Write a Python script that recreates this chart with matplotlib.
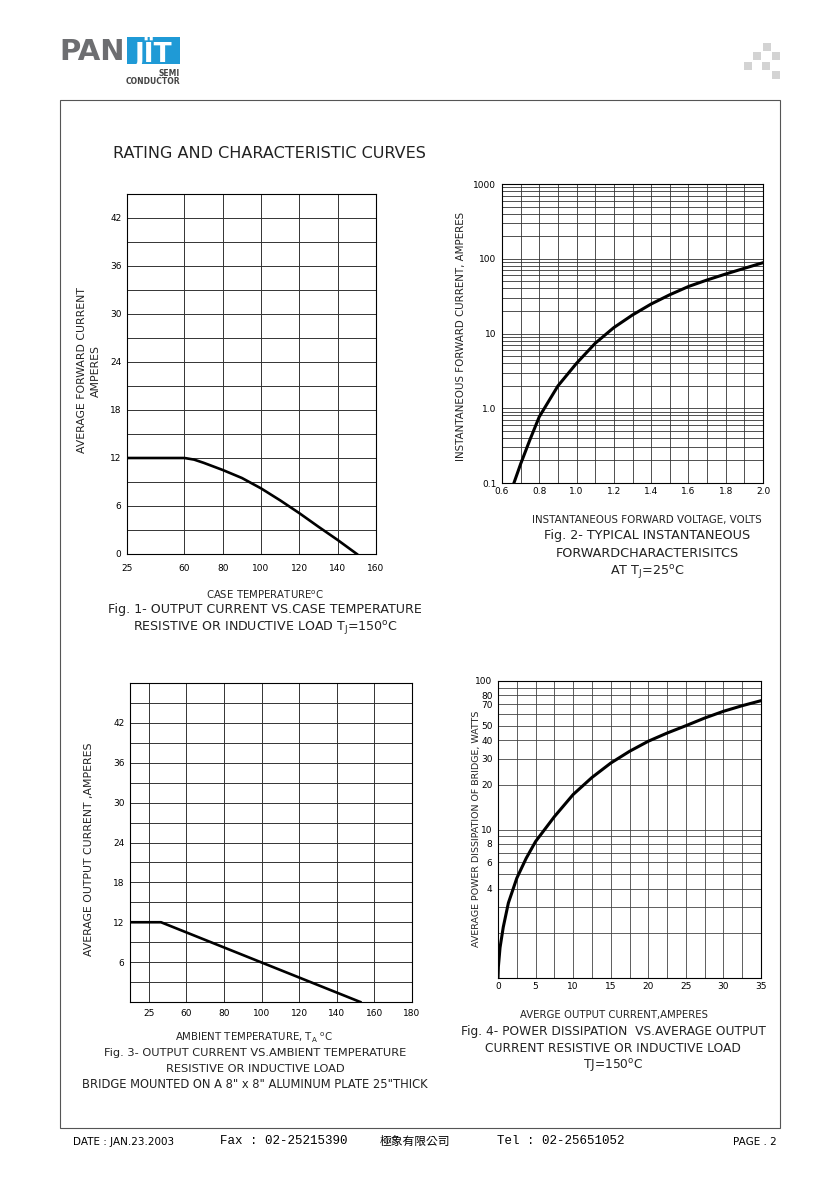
import numpy as np
import matplotlib
matplotlib.use("Agg")
import matplotlib.pyplot as plt
from matplotlib.patches import Rectangle

# ---- data ----
fig1_temp = [30, 60, 65, 70, 80, 90, 100, 110, 120, 130, 140, 150]
fig1_current = [12, 12, 11.8, 11.4, 10.5, 9.5, 8.2, 6.7, 5.1, 3.4, 1.75, 0]
fig1_xticks = [30, 60, 80, 100, 120, 140, 160]
fig1_xlabels = ['25', '60', '80', '100', '120', '140', '160']
fig1_yticks = [0, 6, 12, 18, 24, 30, 36, 42]

fig2_volt = [0.664, 0.7, 0.75, 0.8, 0.9, 1.0, 1.1, 1.2, 1.3, 1.4, 1.5, 1.6, 1.7, 1.8, 1.9, 2.0]
fig2_amp = [0.1, 0.18, 0.38, 0.77, 1.99, 4.0, 7.4, 12.0, 17.7, 24.8, 33.0, 42.5, 52, 62.5, 74.5, 88.5]
fig2_xticks = [0.6, 0.8, 1.0, 1.2, 1.4, 1.6, 1.8, 2.0]
fig2_yticks = [0.1, 1, 10, 100, 1000]
fig2_ylabels = ['0.1', '1.0', '10', '100', '1000']

fig3_temp = [30, 46.5, 152.5]
fig3_current = [12, 12, 0]
fig3_xticks = [40, 60, 80, 100, 120, 140, 160, 180]
fig3_xlabels = ['25', '60', '80', '100', '120', '140', '160', '180']
fig3_yticks = [6, 12, 18, 24, 30, 36, 42]

fig4_amp = [0, 0.05, 0.27, 0.7, 1.38, 2.5, 3.75, 5, 7.5, 10, 12.5, 15, 17.5, 20, 22.5, 25, 27.5, 30, 32.5, 35]
fig4_watt = [1.0, 1.19, 1.6, 2.2, 3.2, 4.7, 6.4, 8.3, 12.2, 17.2, 22.4, 28.0, 33.6, 39.3, 44.6, 50, 56.3,
             62.5, 68.2, 73.7]
fig4_xticks = [0, 5, 10, 15, 20, 25, 30, 35]
fig4_yticks = [4, 6, 8, 10, 20, 30, 40, 50, 70, 80, 100]

# ---- page ----
W, H = 840, 1189
fig = plt.figure(figsize=(W / 100, H / 100), dpi=100)
fig.patch.set_facecolor('white')
tick_font = ['Liberation Sans Narrow', 'DejaVu Sans']
txt_font = ['DejaVu Sans']
ink = '#222222'


def px_axes(l, t, r, b):
    return fig.add_axes([l / W, 1 - b / H, (r - l) / W, (b - t) / H])


def ptext(x, y, s, **kw):
    kw.setdefault('va', 'center')
    kw.setdefault('family', txt_font)
    kw.setdefault('color', ink)
    fig.text(x / W, 1 - y / H, s, **kw)


def prect(x0, y0, x1, y1, **kw):
    fig.patches.append(Rectangle((x0 / W, 1 - y1 / H), (x1 - x0) / W, (y1 - y0) / H,
                                 transform=fig.transFigure, figure=fig, **kw))


def style(ax):
    for s in ax.spines.values():
        s.set_linewidth(0.8)
    ax.tick_params(which='both', length=0, labelsize=6.5, pad=4)
    for lab in ax.get_xticklabels() + ax.get_yticklabels():
        lab.set_family(tick_font)
    ax.set_axisbelow(True)


# page frame
prect(60, 100, 780, 1128, fill=False, edgecolor='#555555', linewidth=0.8)

# logo
ptext(59, 52, 'PAN', fontsize=21, fontweight='bold', color='#6d6e71', ha='left')
prect(127, 37, 180, 64, facecolor='#1f9ad6', edgecolor='none')
ptext(153.5, 52, 'JÏT', fontsize=19, fontweight='bold', color='white', ha='center')
ptext(180, 73, 'SEMI', fontsize=5.5, fontweight='bold', color='#444444', ha='right')
ptext(180, 81, 'CONDUCTOR', fontsize=5.5, fontweight='bold', color='#444444', ha='right')

# gray squares top right
for (x0, y0) in [(763, 43), (753, 52), (772, 52), (744, 62), (762, 62), (772, 71)]:
    prect(x0, y0, x0 + 8, y0 + 8, facecolor='#d3d3d3', edgecolor='none')

ptext(113, 154, 'RATING AND CHARACTERISTIC CURVES', fontsize=11.5, ha='left')

# ---- Fig. 1 ----
ax1 = px_axes(127, 194, 376, 554)
ax1.plot(fig1_temp, fig1_current, color='black', linewidth=1.9, solid_joinstyle='round')
ax1.set_xlim(30, 160)
ax1.set_ylim(0, 45)
ax1.set_xticks(fig1_xticks, fig1_xlabels)
ax1.set_yticks(fig1_yticks)
ax1.set_yticks(np.arange(3, 45, 6), minor=True)
ax1.grid(True, which='both', color='#333333', linewidth=0.7)
style(ax1)
ax1.tick_params(axis='x', pad=7)

ptext(82, 370, 'AVERAGE FORWARD CURRENT', rotation=90, ha='center', fontsize=7.8)
ptext(96, 371, 'AMPERES', rotation=90, ha='center', fontsize=7.8)
ptext(265, 595, 'CASE TEMPERATURE$^{\\rm o}$C', ha='center', fontsize=7.3)
ptext(265, 610, 'Fig. 1- OUTPUT CURRENT VS.CASE TEMPERATURE', ha='center', fontsize=9.1)
ptext(265, 628, 'RESISTIVE OR INDUCTIVE LOAD T$_{\\rm J}$=150$^{\\rm o}$C', ha='center', fontsize=9.1)

# ---- Fig. 2 ----
ax2 = px_axes(502, 184, 763, 483)
ax2.plot(fig2_volt, fig2_amp, color='black', linewidth=2.2, solid_joinstyle='round')
ax2.set_yscale('log')
ax2.set_xlim(0.6, 2.0)
ax2.set_ylim(0.1, 1000)
ax2.set_xticks(fig2_xticks, ['%.1f' % v for v in fig2_xticks])
ax2.set_xticks(np.arange(0.7, 2.0, 0.2), minor=True)
ax2.set_yticks(fig2_yticks, fig2_ylabels)
ax2.set_yticks([m * d for d in [0.1, 1, 10, 100] for m in range(2, 10)], minor=True)
ax2.yaxis.set_minor_formatter(matplotlib.ticker.NullFormatter())
ax2.grid(True, which='both', color='#333333', linewidth=0.6)
style(ax2)
ax2.tick_params(axis='x', pad=3)

ptext(461, 336, 'INSTANTANEOUS FORWARD CURRENT, AMPERES', rotation=90, ha='center', fontsize=7.4)
ptext(647, 520, 'INSTANTANEOUS FORWARD VOLTAGE, VOLTS', ha='center', fontsize=7.4)
ptext(647, 536, 'Fig. 2- TYPICAL INSTANTANEOUS', ha='center', fontsize=9.2)
ptext(647, 554, 'FORWARDCHARACTERISITCS', ha='center', fontsize=9.2)
ptext(647, 572, 'AT T$_{\\rm J}$=25$^{\\rm o}$C', ha='center', fontsize=9.2)

# ---- Fig. 3 ----
ax3 = px_axes(130, 683, 412, 1002)
ax3.plot(fig3_temp, fig3_current, color='black', linewidth=1.9, solid_joinstyle='round')
ax3.set_xlim(30, 180)
ax3.set_ylim(0, 48)
ax3.set_xticks(fig3_xticks, fig3_xlabels)
ax3.set_yticks(fig3_yticks)
ax3.set_yticks(np.arange(3, 48, 6), minor=True)
ax3.grid(True, which='both', color='#333333', linewidth=0.7)
style(ax3)
ax3.tick_params(axis='x', pad=5)

ptext(89, 849, 'AVERAGE OUTPUT CURRENT ,AMPERES', rotation=90, ha='center', fontsize=7.8)
ptext(254, 1038, 'AMBIENT TEMPERATURE, T$_{\\rm A}$ $^{\\rm o}$C', ha='center', fontsize=7.3)
ptext(255, 1053, 'Fig. 3- OUTPUT CURRENT VS.AMBIENT TEMPERATURE', ha='center', fontsize=8.2)
ptext(255, 1069, 'RESISTIVE OR INDUCTIVE LOAD', ha='center', fontsize=8.2)
ptext(255, 1085, 'BRIDGE MOUNTED ON A 8" x 8" ALUMINUM PLATE 25"THICK', ha='center', fontsize=8.3)

# ---- Fig. 4 ----
ax4 = px_axes(498, 681, 761, 978)
ax4.plot(fig4_amp, fig4_watt, color='black', linewidth=2.2, solid_joinstyle='round')
ax4.set_yscale('log')
ax4.set_xlim(0, 35)
ax4.set_ylim(1, 100)
ax4.set_xticks(fig4_xticks)
ax4.set_xticks(np.arange(2.5, 35, 5), minor=True)
ax4.set_yticks(fig4_yticks, [str(v) for v in fig4_yticks])
ax4.set_yticks([2, 3, 5, 7, 9, 60, 90], minor=True)
ax4.yaxis.set_minor_formatter(matplotlib.ticker.NullFormatter())
ax4.grid(True, which='both', color='#444444', linewidth=0.6)
style(ax4)
ax4.tick_params(axis='x', pad=3)

ptext(476, 829, 'AVERAGE POWER DISSIPATION OF BRIDGE, WATTS', rotation=90, ha='center', fontsize=6.8)
ptext(614, 1015, 'AVERGE OUTPUT CURRENT,AMPERES', ha='center', fontsize=7.3)
ptext(613, 1031, 'Fig. 4- POWER DISSIPATION  VS.AVERAGE OUTPUT', ha='center', fontsize=8.8)
ptext(613, 1048, 'CURRENT RESISTIVE OR INDUCTIVE LOAD', ha='center', fontsize=8.8)
ptext(613, 1065, 'TJ=150$^{\\rm o}$C', ha='center', fontsize=8.8)

# ---- footer ----
ptext(73, 1142, 'DATE : JAN.23.2003', ha='left', fontsize=7.5, family=['Liberation Sans Narrow', 'DejaVu Sans'],
      color='black')
ptext(220, 1141, 'Fax : 02-25215390', ha='left', fontsize=9, family=['Liberation Mono', 'DejaVu Sans'],
      color='black')
ptext(380, 1141, '極象有限公司', ha='left', fontsize=8.5, family=['Noto Sans CJK TC', 'DejaVu Sans'],
      color='black')
ptext(497, 1141, 'Tel : 02-25651052', ha='left', fontsize=9, family=['Liberation Mono', 'DejaVu Sans'],
      color='black')
ptext(733, 1142, 'PAGE . 2', ha='left', fontsize=7.5, family=['Liberation Sans Narrow', 'DejaVu Sans'],
      color='black')

fig.savefig('out.png', dpi=100)
